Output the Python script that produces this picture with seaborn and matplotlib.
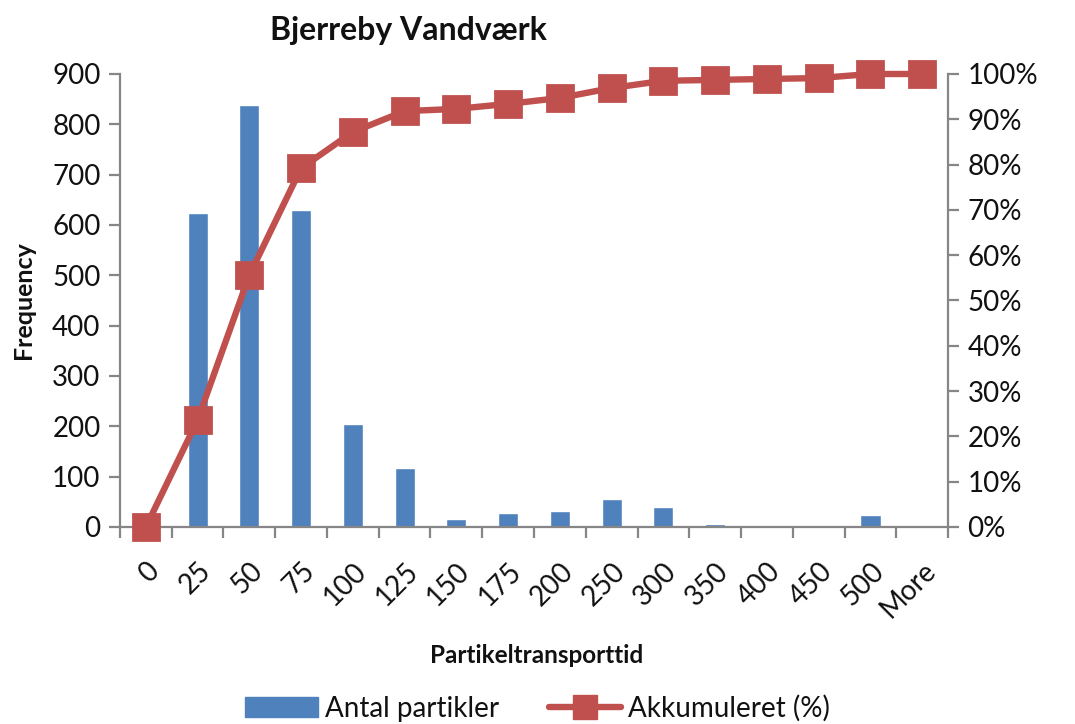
import numpy as np
import pandas as pd
import matplotlib
matplotlib.use('Agg')
import matplotlib.pyplot as plt
import seaborn as sns
from matplotlib.ticker import PercentFormatter, FixedLocator
from matplotlib.patches import Patch
from matplotlib.lines import Line2D

# data
bins = ['0', '25', '50', '75', '100', '125', '150', '175', '200',
        '250', '300', '350', '400', '450', '500', 'More']
counts = [0, 624, 838, 630, 205, 117, 15, 27, 32, 56, 40, 6, 0, 0, 23, 0]
cum_pct = [0.0, 23.6, 55.6, 79.2, 87.2, 91.8, 92.3, 93.4, 94.7,
           96.9, 98.5, 98.7, 98.9, 99.1, 100.0, 100.0]

BAR = '#4F81BD'
LINE = '#C0504D'
SPINE = '#868686'
TXT = '#111111'

sns.set_theme(style='white')
plt.rcParams['font.family'] = ['Lato', 'DejaVu Sans']

df = pd.DataFrame({'bin': bins, 'count': counts, 'cum': np.array(cum_pct) / 100})

fig = plt.figure(figsize=(10.75, 7.24), dpi=100)
ax = fig.add_axes([0.1116, 0.2721, 0.7703, 0.6257])
ax2 = ax.twinx()

sns.barplot(data=df, x='bin', y='count', order=bins, color=BAR,
            saturation=1, width=0.39, ax=ax)
sns.pointplot(data=df, x='bin', y='cum', order=bins, color=LINE,
              markers='s', markersize=17, linewidth=4.6, ax=ax2)

n = len(bins)
ax.set_xlim(-0.5, n - 0.5)
ax.set_ylim(0, 900)
ax.set_yticks(range(0, 901, 100))
ax2.set_ylim(0, 1)
ax2.set_yticks(np.linspace(0, 1, 11))
ax2.yaxis.set_major_formatter(PercentFormatter(1, decimals=0))
for coll in ax2.lines + ax2.collections:
    coll.set_clip_on(False)

# spines
for a in (ax, ax2):
    a.spines['top'].set_visible(False)
    for s in ('left', 'right', 'bottom'):
        a.spines[s].set_color(SPINE)
        a.spines[s].set_linewidth(1.6)
ax.spines['right'].set_visible(False)
ax2.spines['left'].set_visible(False)
ax2.spines['bottom'].set_visible(False)

# tick labels at centers, tick marks between categories
ax.set_xticks(range(n))
ax.set_xticklabels(bins, rotation=45, ha='right', va='top',
                   rotation_mode='anchor', fontsize=20, color=TXT)
ax.tick_params(axis='x', which='major', length=0, pad=22)
ax.xaxis.set_minor_locator(FixedLocator(np.arange(-0.5, n, 1)))
ax.tick_params(axis='x', which='minor', length=8, width=1.6, color=SPINE,
               direction='out', bottom=True)
ax.tick_params(axis='y', length=8, width=1.6, color=SPINE, direction='out',
               left=True, labelsize=20, labelcolor=TXT, pad=6)
ax2.tick_params(axis='y', length=8, width=1.6, color=SPINE, direction='out',
                right=True, labelsize=20, labelcolor=TXT, pad=6)

ax.set_xlabel('')
ax.set_ylabel('Frequency', fontsize=18, fontweight='bold', labelpad=12,
              color=TXT)
ax2.set_ylabel('')
ax2.set_xlabel('')

fig.text(0.4995, 0.095, 'Partikeltransporttid', ha='center', va='center',
         fontsize=17.5, fontweight='bold', color=TXT)
fig.text(0.38, 0.958, 'Bjerreby Vandværk', ha='center', va='center',
         fontsize=23, fontweight='bold', color=TXT)

handles = [Patch(facecolor=BAR, edgecolor=BAR),
           Line2D([0], [0], color=LINE, lw=4.6, marker='s', markersize=17)]
fig.legend(handles, ['Antal partikler', 'Akkumuleret (%)'], loc='center',
           bbox_to_anchor=(0.5, 0.022), ncol=2, frameon=False, fontsize=20,
           handlelength=2.6, handletextpad=0.25, columnspacing=1.8,
           labelcolor=TXT)

fig.savefig('out.png', dpi=100)
